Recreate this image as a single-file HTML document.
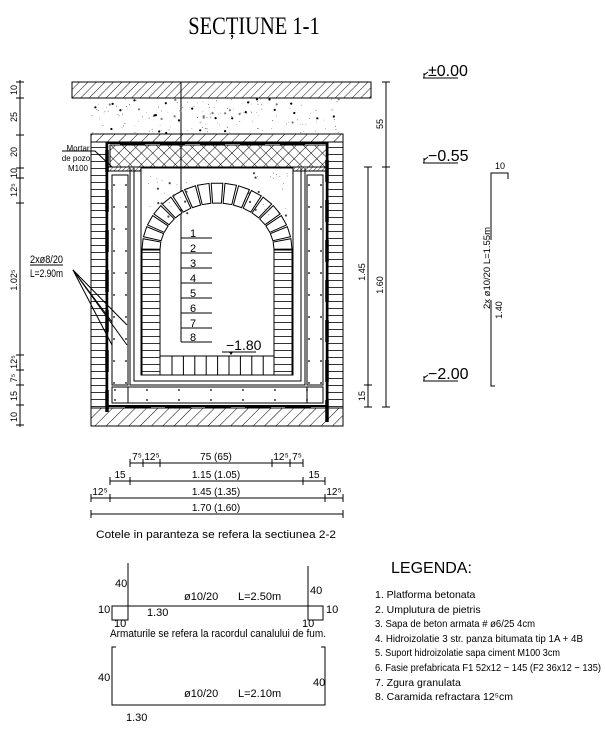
<!DOCTYPE html>
<html><head><meta charset="utf-8"><style>
html,body{margin:0;padding:0;background:#fff}
svg{display:block}
text{font-family:"Liberation Sans Narrow","Liberation Sans",sans-serif;fill:#000}
</style></head><body>
<svg id="s" width="605" height="730" viewBox="0 0 605 730" xmlns="http://www.w3.org/2000/svg">
<defs>
<pattern id="hatch" width="6" height="6" patternUnits="userSpaceOnUse" patternTransform="rotate(45)">
<line x1="0" y1="0" x2="0" y2="6" stroke="#000" stroke-width="0.9"/></pattern>
<pattern id="hatch2" width="8" height="8" patternUnits="userSpaceOnUse" patternTransform="rotate(45)">
<line x1="0" y1="0" x2="0" y2="8" stroke="#000" stroke-width="1"/></pattern>
<pattern id="cross" width="8" height="8" patternUnits="userSpaceOnUse" patternTransform="rotate(45)">
<line x1="0" y1="0" x2="0" y2="8" stroke="#000" stroke-width="1"/><line x1="0" y1="0" x2="8" y2="0" stroke="#000" stroke-width="1"/></pattern>
<pattern id="brick" width="16" height="7" patternUnits="userSpaceOnUse">
<line x1="0" y1="0.5" x2="16" y2="0.5" stroke="#000" stroke-width="0.8"/></pattern>
<pattern id="dense" width="3" height="3" patternUnits="userSpaceOnUse" patternTransform="rotate(45)">
<line x1="0" y1="0" x2="0" y2="3" stroke="#000" stroke-width="0.8"/></pattern>
</defs>

<text x="254" y="34" font-size="25" text-anchor="middle" transform="translate(254,0) scale(0.82,1) translate(-254,0)" style="font-family:'Liberation Serif',serif">SECȚIUNE 1-1</text>

<g fill="none" stroke="#000" stroke-width="1">
<rect x="72" y="82" width="299" height="16" fill="url(#hatch)"/>
<rect x="91" y="134" width="252" height="8" fill="url(#hatch2)"/>
<rect x="91" y="142" width="15" height="266" fill="url(#brick)"/>
<rect x="328" y="142" width="15" height="266" fill="url(#brick)"/>
<rect x="91" y="408" width="252" height="18" fill="url(#hatch2)"/>
<line x1="107" y1="142" x2="107" y2="406" stroke-width="2.5"/>
<line x1="327" y1="142" x2="327" y2="406" stroke-width="2.5"/>
<line x1="107" y1="143" x2="327" y2="143" stroke-width="2"/>
<line x1="107" y1="406" x2="327" y2="406" stroke-width="2"/>
<rect x="110" y="145" width="217" height="22" fill="url(#cross)"/>
<rect x="108" y="167" width="33" height="4" fill="url(#dense)"/>
<rect x="293" y="167" width="34" height="4" fill="url(#dense)"/>
<rect x="112" y="175" width="16" height="210"/>
<rect x="307" y="175" width="16" height="210"/>
<rect x="112" y="387" width="211" height="16"/>
<line x1="128" y1="387" x2="128" y2="403"/><line x1="307" y1="387" x2="307" y2="403"/>
<polyline points="130,168 130,385 305,385 305,168"/>
<polyline points="134,168 134,381 301,381 301,168"/>
<rect x="141" y="168" width="152" height="207"/>
<rect x="142" y="250" width="18" height="125" fill="url(#brick)"/>
<rect x="274" y="250" width="18" height="125" fill="url(#brick)"/>
<rect x="160" y="356" width="114" height="19"/>
<line x1="181" y1="82" x2="181" y2="342"/>
<line x1="222" y1="352" x2="256" y2="352"/>
<line x1="20" y1="80" x2="20" y2="427"/>
<line x1="386" y1="82" x2="386" y2="407"/>
<line x1="368" y1="167" x2="368" y2="407"/>
<line x1="423" y1="78" x2="458" y2="78"/><line x1="423" y1="163" x2="458" y2="163"/><line x1="423" y1="381" x2="458" y2="381"/>
<polyline points="508,179 508,173 491,173 491,240"/>
<polyline points="491,300 491,386 495,386"/>
<line x1="130" y1="463" x2="303" y2="463"/>
<line x1="110" y1="481" x2="325" y2="481"/>
<line x1="91" y1="498" x2="343" y2="498"/>
<line x1="91" y1="514" x2="343" y2="514"/>
<polyline points="128,563 128,620 112,620 112,606 323,606 323,620 308,620 308,566"/>
<polyline points="116,647 112,647 112,705 325,705 325,647 321,647"/>
<line x1="30" y1="265" x2="63" y2="265"/>
<line x1="73" y1="270" x2="127" y2="325"/><line x1="73" y1="270" x2="127" y2="345"/>
<line x1="73" y1="270" x2="112" y2="322"/><line x1="73" y1="270" x2="112" y2="345"/>
<polyline points="62,151 95,151 112,167"/>
</g>
<g id="g"></g>

<g font-size="9" text-anchor="middle">
<text transform="translate(17,90) rotate(-90)">10</text>
<text transform="translate(17,117) rotate(-90)">25</text>
<text transform="translate(17,152) rotate(-90)">20</text>
<text transform="translate(17,173) rotate(-90)">10</text>
<text transform="translate(17,190) rotate(-90)">12⁵</text>
<text transform="translate(17,280) rotate(-90)">1.02⁵</text>
<text transform="translate(17,362) rotate(-90)">12⁵</text>
<text transform="translate(17,378) rotate(-90)">7⁵</text>
<text transform="translate(17,396) rotate(-90)">15</text>
<text transform="translate(17,417) rotate(-90)">10</text>
<text transform="translate(383,124) rotate(-90)">55</text>
<text transform="translate(383,285) rotate(-90)">1.60</text>
<text transform="translate(365,272) rotate(-90)">1.45</text>
<text transform="translate(365,396) rotate(-90)">15</text>
<text transform="translate(490,268) rotate(-90)" textLength="82" lengthAdjust="spacingAndGlyphs">2x ø10/20   L=1.55m</text>
<text transform="translate(502,310) rotate(-90)">1.40</text>
<text x="500" y="169">10</text>
</g>
<g font-size="8" text-anchor="middle"><text x="78" y="151">Mortar</text><text x="76" y="161">de pozo</text><text x="78" y="171">M100</text></g>
<g font-size="11"><text x="30" y="263" textLength="33" lengthAdjust="spacingAndGlyphs">2xø8/20</text><text x="30" y="277" textLength="33" lengthAdjust="spacingAndGlyphs">L=2.90m</text></g>
<g font-size="11"><text x="190" y="237">1</text><text x="190" y="252">2</text><text x="190" y="267">3</text><text x="190" y="282">4</text><text x="190" y="297">5</text><text x="190" y="312">6</text><text x="190" y="327">7</text><text x="190" y="341">8</text></g>
<text x="226" y="350" font-size="14">−1.80</text>
<g font-size="16"><text x="428" y="76">±0.00</text><text x="428" y="161">−0.55</text><text x="428" y="379">−2.00</text></g>
<g font-size="10" text-anchor="middle">
<text x="137" y="460">7⁵</text><text x="152" y="460">12⁵</text><text x="216" y="460">75 (65)</text><text x="281" y="460">12⁵</text><text x="297" y="460">7⁵</text>
<text x="120" y="478">15</text><text x="216" y="478">1.15 (1.05)</text><text x="314" y="478">15</text>
<text x="100" y="495">12⁵</text><text x="216" y="495">1.45 (1.35)</text><text x="334" y="495">12⁵</text>
<text x="216" y="511">1.70 (1.60)</text>
</g>
<text x="216" y="538" font-size="11" text-anchor="middle" textLength="240" lengthAdjust="spacingAndGlyphs">Cotele in paranteza se refera la sectiunea 2-2</text>
<g font-size="11">
<text x="115" y="587">40</text><text x="310" y="594">40</text><text x="98" y="613">10</text><text x="114" y="627">10</text><text x="147" y="616">1.30</text>
<text x="184" y="600">ø10/20</text><text x="238" y="600">L=2.50m</text><text x="302" y="627">10</text><text x="326" y="613">10</text>
<text x="218" y="637" text-anchor="middle" textLength="216" lengthAdjust="spacingAndGlyphs">Armaturile se refera la racordul canalului de fum.</text>
<text x="98" y="681">40</text><text x="313" y="686">40</text><text x="184" y="697">ø10/20</text><text x="238" y="697">L=2.10m</text><text x="126" y="721">1.30</text>
</g>
<text x="391" y="573" font-size="16">LEGENDA:</text>
<g font-size="10.5">
<text x="375" y="598">1. Platforma betonata</text>
<text x="375" y="613">2. Umplutura de pietris</text>
<text x="375" y="627" textLength="160" lengthAdjust="spacingAndGlyphs">3. Sapa de beton armata # ø6/25   4cm</text>
<text x="375" y="642" textLength="208" lengthAdjust="spacingAndGlyphs">4. Hidroizolatie 3 str. panza bitumata tip 1A + 4B</text>
<text x="375" y="656" textLength="185" lengthAdjust="spacingAndGlyphs">5. Suport hidroizolatie sapa ciment M100   3cm</text>
<text x="375" y="671" textLength="226" lengthAdjust="spacingAndGlyphs">6. Fasie prefabricata F1 52x12 − 145 (F2 36x12 − 135)</text>
<text x="375" y="686">7. Zgura granulata</text>
<text x="375" y="700">8. Caramida refractara 12⁵cm</text>
</g>
</svg>
<script>
var g=document.getElementById('g'),h='';
function L(a,b,c,d,w){h+='<line x1="'+a+'" y1="'+b+'" x2="'+c+'" y2="'+d+'" stroke="#000" stroke-width="'+(w||1)+'"/>';}
[82,98,135,168,178,203,355,370,385,405,425].forEach(function(y){L(16,y,24,y);});
[82,167,407].forEach(function(y){L(382,y,390,y);});
[167,385,407].forEach(function(y){L(364,y,372,y);});
[[463,[130,143,160,272,290,303]],[481,[110,130,303,325]],[498,[91,110,325,343]],[514,[91,343]]].forEach(function(r){r[1].forEach(function(x){L(x,r[0]-4,x,r[0]+4);});});
[238,253,268,283,298,313,328,342].forEach(function(y){L(181,y,212,y);});
for(var x=172;x<274;x+=11.4)L(x,356,x,375);
var cx=217,cy=250,n=17;
for(var i=0;i<n;i++){var a0=Math.PI*(i+0.08)/n,a1=Math.PI*(i+0.92)/n;
var p=[[75,a0],[75,a1],[57,a1],[57,a0]].map(function(q){var ry=q[0]==75?67:47;return (cx-q[0]*Math.cos(q[1])).toFixed(1)+','+(cy-ry*Math.sin(q[1])).toFixed(1);});
h+='<polygon points="'+p.join(' ')+'" fill="#fff" stroke="#000" stroke-width="1"/>';}
for(var y=150;y<400;y+=40){L(107,y,107,y+22,3.5);L(327,y+10,327,y+32,3.5);}
for(var x=125;x<320;x+=40){L(x,407,x+26,407,3);}
for(var x=120;x<320;x+=40){L(x,143,x+25,143,3);}
for(var y=185;y<385;y+=22){[114,126,309,321].forEach(function(x){h+='<circle cx="'+x+'" cy="'+y+'" r="0.9"/>';});}
for(var x=115;x<322;x+=32){h+='<circle cx="'+x+'" cy="390" r="0.9"/><circle cx="'+x+'" cy="400" r="0.9"/>';}
var s=7;function R(){s=(s*9301+49297)%233280;return s/233280;}
for(var i=0;i<170;i++){var x=92+R()*252,y=99+R()*34;h+='<circle cx="'+x.toFixed(1)+'" cy="'+y.toFixed(1)+'" r="'+(R()<0.18?1.1:0.4)+'" fill="'+(R()<0.5?'#000':'#777')+'"/>';}
for(var i=0;i<45;i++){var x=(R()<0.5?148+R()*40:248+R()*42),y=172+R()*45;h+='<circle cx="'+x.toFixed(1)+'" cy="'+y.toFixed(1)+'" r="'+(R()<0.3?1.1:0.4)+'" fill="#444"/>';}
[78,163,381].forEach(function(y){L(424,y,424,y-5);L(424,y-3,428,y-6);});
h+='<polygon points="229,352 233,352 231,355" fill="#000"/>';
g.innerHTML=h;
</script>
</body></html>
